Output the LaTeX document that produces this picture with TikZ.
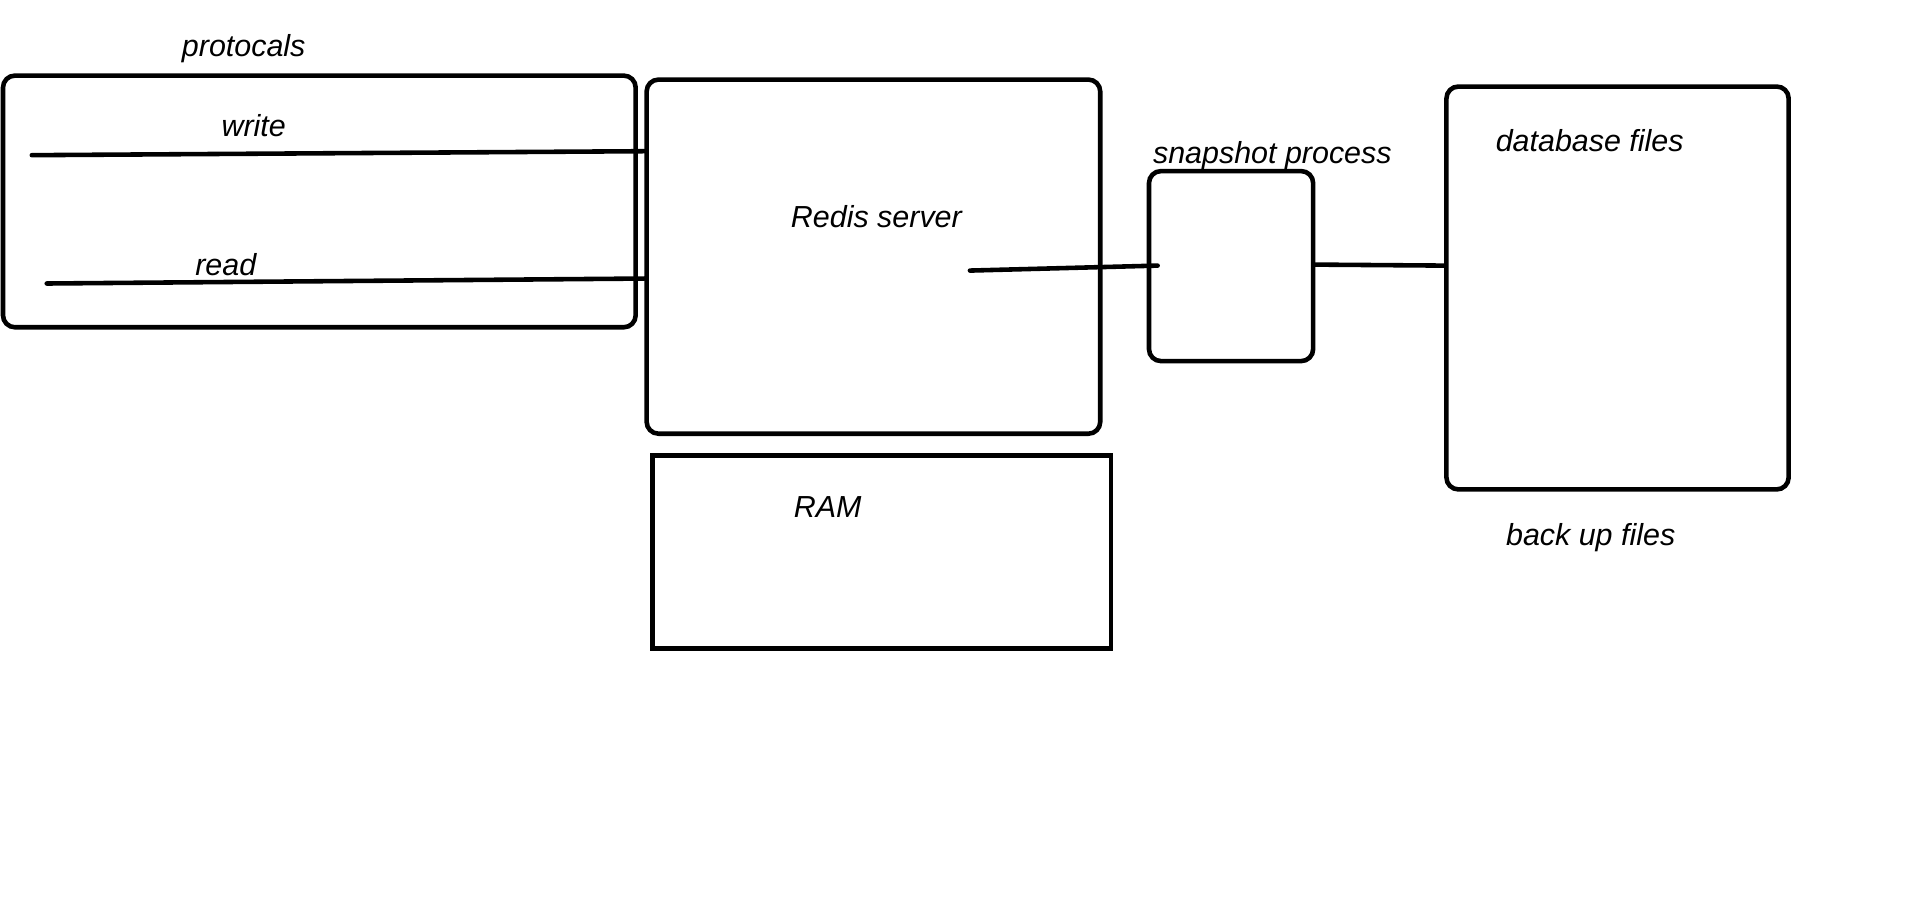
\documentclass[tikz,border=0pt]{standalone}
\usepackage{fontspec}
\setmainfont{Liberation Sans}
\usepackage{tikz}

\tikzset{
	box/.style={draw, line width=2.3pt, rounded corners=6pt, inner sep=0pt},
	flatbox/.style={draw, line width=2.3pt, inner sep=0pt},
	lbl/.style={font=\fontsize{15.3}{18}\selectfont\itshape, inner sep=0pt},
	wire/.style={line width=2.3pt, line cap=round}
}

\begin{document}
\begin{tikzpicture}[x=0.5pt, y=-0.5pt]
			\useasboundingbox (0,0) rectangle (1924,907.5);
			% Boxes
			\node [box, minimum width=636pt*0.5, minimum height=253pt*0.5] (proto) at (321,202.5) {};
			\node [box, minimum width=456pt*0.5, minimum height=356pt*0.5] (redis) at (878,258) {};
			\node [box, minimum width=165pt*0.5, minimum height=191pt*0.5] (snap) at (1237.5,267.5) {};
			\node [box, minimum width=344pt*0.5, minimum height=405pt*0.5] (db) at (1626,289.5) {};
			\node [flatbox, minimum width=461pt*0.5, minimum height=194pt*0.5] (ram) at (886.5,555) {};
			% Labels
			\node [lbl] (protolbl) at (245,49) {protocals};
			\node [lbl] (writelbl) at (255,126) {write};
			\node [lbl] (readlbl) at (227,266) {read};
			\node [lbl] (redislbl) at (881,218) {Redis server};
			\node [lbl] (snaplbl) at (1279,156) {snapshot process};
			\node [lbl] (dblbl) at (1598,141) {database files};
			\node [lbl] (backlbl) at (1599,540) {back up files};
			\node [lbl] (ramlbl) at (832,510) {RAM};
			% Lines
			\coordinate (writein) at (32,156);
			\coordinate (readin) at (47,285);
			\coordinate (redisout) at (975,272);
			\draw [wire] (writein) -- (redis.west |- 0,152);
			\draw [wire] (readin) -- (redis.west |- 0,280);
			\draw [wire] (redisout) -- ([xshift=5.5pt]snap.west |- 0,267);
			\draw [wire] (snap.east |- 0,266) -- (db.west |- 0,267);
		\end{tikzpicture}
\end{document}
